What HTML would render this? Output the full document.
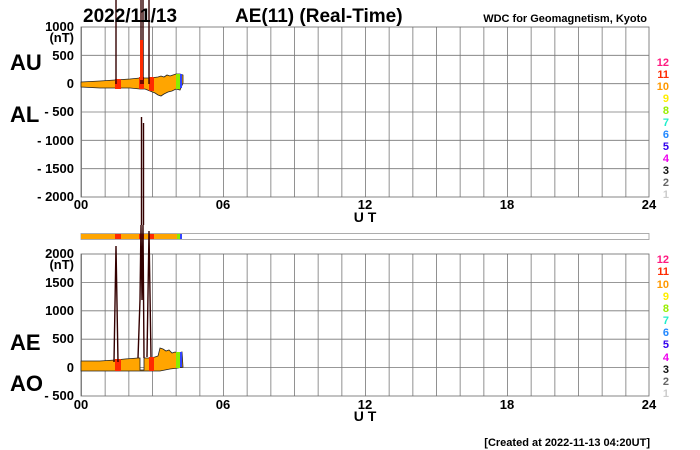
<!DOCTYPE html>
<html><head><style>body{margin:0;background:#fff}svg{display:block}text{font-family:"Liberation Sans",sans-serif;font-weight:bold}</style></head>
<body>
<svg width="700" height="450" viewBox="0 0 700 450" xmlns="http://www.w3.org/2000/svg">
<defs>
<pattern id="gx" x="81" width="23.667" height="450" patternUnits="userSpaceOnUse"><line x1="0.5" y1="0" x2="0.5" y2="450" stroke="#777" stroke-width="0.8"/></pattern>
</defs>
<g stroke="#777" stroke-width="0.8">
<rect x="81" y="27" width="568" height="170" fill="url(#gx)" stroke="#666"/>
<line x1="81" y1="55.3" x2="649" y2="55.3"/><line x1="81" y1="83.7" x2="649" y2="83.7"/><line x1="81" y1="112" x2="649" y2="112"/><line x1="81" y1="140.3" x2="649" y2="140.3"/><line x1="81" y1="168.7" x2="649" y2="168.7"/>
<rect x="81" y="254" width="568" height="142" fill="url(#gx)" stroke="#666"/>
<line x1="81" y1="282.4" x2="649" y2="282.4"/><line x1="81" y1="310.8" x2="649" y2="310.8"/><line x1="81" y1="339.2" x2="649" y2="339.2"/><line x1="81" y1="367.6" x2="649" y2="367.6"/>
</g>
<polygon fill="#ffa500" stroke="#222" stroke-width="0.8" points="81,82 100,81 115,80 130,79 140,78 150,78 158,77 161,76 164,77 167,75 170,76 173,75 176,74 180,74 183,75 183,83 180,90 176,89 172,91 168,92 164,94 161,96 158,95 155,93 150,91 145,89 140,89 130,88 115,88 100,88 81,87"/>
<rect x="115" y="79" width="6" height="10" fill="#ff2a00"/>
<rect x="139" y="77" width="5" height="12" fill="#ff2a00"/>
<rect x="149" y="77" width="5" height="14" fill="#ff2a00"/>
<rect x="176" y="74" width="4" height="15" fill="#88ee00"/>
<rect x="180" y="74" width="2" height="14" fill="#3344ff"/>
<g stroke="#300" stroke-width="1.4">
<line x1="116" y1="0" x2="116" y2="84"/><line x1="141" y1="0" x2="141" y2="84"/><line x1="143" y1="0" x2="143" y2="84"/><line x1="149" y1="0" x2="149" y2="84"/>
<line x1="141.5" y1="117" x2="141.5" y2="225"/><line x1="143.5" y1="123" x2="143.5" y2="225"/>
</g>
<rect x="140" y="40" width="3" height="40" fill="#ff2a00"/>
<rect x="81" y="233.5" width="568" height="6" fill="#fff" stroke="#999" stroke-width="0.8"/>
<rect x="81" y="234" width="96" height="5" fill="#ffa500"/>
<rect x="115" y="234" width="6" height="5" fill="#ff2a00"/><rect x="139" y="234" width="5" height="5" fill="#ff2a00"/><rect x="149" y="234" width="5" height="5" fill="#ff2a00"/>
<rect x="177" y="234" width="3" height="5" fill="#88ee00"/><rect x="180" y="234" width="2" height="5" fill="#3344ff"/>
<polygon fill="#ffa500" stroke="#222" stroke-width="0.8" points="81,361 100,361 115,360 125,359 138,358 140,358 140,370 144,370 144,358 150,358 155,357 158,356 160,348 163,349 166,351 169,350 172,353 175,352 178,353 182,352 183,367 178,368 170,369 160,371 150,371 140,371 115,371 81,371"/>
<rect x="115" y="359" width="6" height="12" fill="#ff2a00"/>
<rect x="149" y="357" width="5" height="14" fill="#ff2a00"/>
<rect x="176" y="352" width="4" height="16" fill="#88ee00"/>
<rect x="180" y="352" width="2" height="15" fill="#3344ff"/>
<g stroke="#300" stroke-width="1.4" fill="none">
<polyline points="114,362 116,246 118,362"/>
<polyline points="138,358 140,300 141,225 142,300 143,225 144,358"/>
<polyline points="147,357 149,231 151,357"/>
</g>
<g font-size="13" text-anchor="end">
<text x="74" y="31">1000</text><text x="74" y="42">(nT)</text><text x="74" y="60">500</text><text x="74" y="88">0</text>
<text x="74" y="116">- 500</text><text x="74" y="145">- 1000</text><text x="74" y="173">- 1500</text><text x="74" y="201">- 2000</text>
<text x="74" y="258">2000</text><text x="74" y="269">(nT)</text><text x="74" y="287">1500</text><text x="74" y="315">1000</text><text x="74" y="343">500</text><text x="74" y="372">0</text><text x="74" y="400">- 500</text>
</g>
<g font-size="13" text-anchor="middle">
<text x="81" y="209">00</text><text x="223" y="209">06</text><text x="365" y="209">12</text><text x="507" y="209">18</text><text x="649" y="209">24</text>
<text x="81" y="409">00</text><text x="223" y="409">06</text><text x="365" y="409">12</text><text x="507" y="409">18</text><text x="649" y="409">24</text>
<text x="365" y="222" font-size="14">U T</text><text x="365" y="421" font-size="14">U T</text>
</g>
<g font-size="22"><text x="10" y="70">AU</text><text x="10" y="122">AL</text><text x="10" y="350">AE</text><text x="10" y="391">AO</text></g>
<text x="83" y="22" font-size="19">2022/11/13</text>
<text x="235" y="22" font-size="19">AE(11) (Real-Time)</text>
<text x="647" y="22" font-size="11" text-anchor="end">WDC for Geomagnetism, Kyoto</text>
<text x="650" y="446" font-size="11" text-anchor="end">[Created at 2022-11-13 04:20UT]</text>
<g font-size="11" text-anchor="end">
<text x="669" y="66" fill="#ff1a80">12</text><text x="669" y="78" fill="#ff2a00">11</text><text x="669" y="90" fill="#ff9900">10</text><text x="669" y="102" fill="#ffee00">9</text><text x="669" y="114" fill="#99ee00">8</text><text x="669" y="126" fill="#22eecc">7</text><text x="669" y="138" fill="#2288ff">6</text><text x="669" y="150" fill="#3300ee">5</text><text x="669" y="162" fill="#ee00ee">4</text><text x="669" y="174" fill="#111">3</text><text x="669" y="186" fill="#666">2</text><text x="669" y="198" fill="#ccc">1</text>
<text x="669" y="263" fill="#ff1a80">12</text><text x="669" y="275" fill="#ff2a00">11</text><text x="669" y="288" fill="#ff9900">10</text><text x="669" y="300" fill="#ffee00">9</text><text x="669" y="312" fill="#99ee00">8</text><text x="669" y="324" fill="#22eecc">7</text><text x="669" y="336" fill="#2288ff">6</text><text x="669" y="348" fill="#3300ee">5</text><text x="669" y="361" fill="#ee00ee">4</text><text x="669" y="373" fill="#111">3</text><text x="669" y="385" fill="#666">2</text><text x="669" y="397" fill="#ccc">1</text>
</g>
</svg>
</body></html>
